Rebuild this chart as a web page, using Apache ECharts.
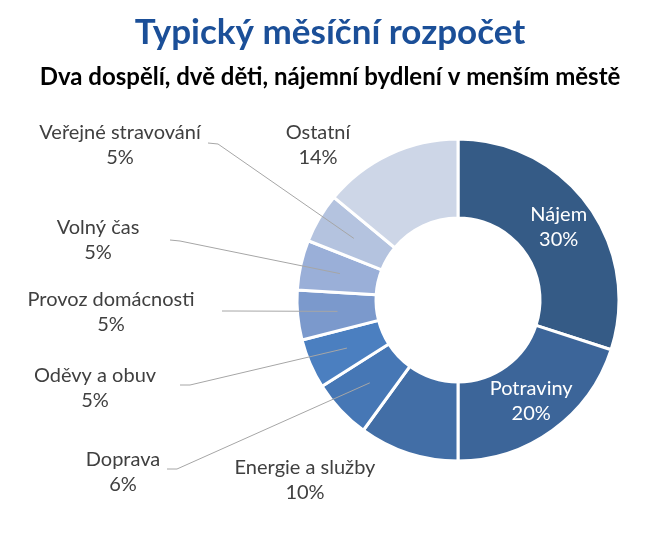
<!DOCTYPE html>
<html><head><meta charset="utf-8">
<script src="https://cdn.jsdelivr.net/npm/echarts@6/dist/echarts.min.js"></script>
<style>html,body{margin:0;padding:0;background:#fff}#c{width:660px;height:544px}</style>
</head><body><div id="c"></div>
<script>
const categories = ['Nájem','Potraviny','Energie a služby','Doprava','Oděvy a obuv','Provoz domácnosti','Volný čas','Veřejné stravování','Ostatní'];
const values = [30,20,10,6,5,5,5,5,14];
const colors = ['#355b86','#3c6599','#426ea6','#4677b5','#4b7fc0','#7b99cc','#9aafd8','#b4c3df','#cdd6e7'];

const CX = 458, CY = 300, R0 = 82, R1 = 161, RM = 121;
const labelPos = {
  2: {x: 305, y: 480},
  3: {x: 123, y: 472, end: [167, 469], kink: [177, 469]},
  4: {x: 95, y: 388, end: [180, 385], kink: [190, 385]},
  5: {x: 111, y: 312, end: [222, 311], kink: [232, 311]},
  6: {x: 98, y: 240, end: [170, 240], kink: [180, 241]},
  7: {x: 120, y: 145, end: [208, 143], kink: [218, 144]},
  8: {x: 318, y: 145}
};
const total = values.reduce((a,b)=>a+b,0);
function midPoint(i){
  let cum = 0; for (let k=0;k<i;k++) cum += values[k];
  const a = (cum + values[i]/2) / total * 2 * Math.PI;
  return [CX + RM*Math.sin(a), CY - RM*Math.cos(a)];
}
const FONT = 'Lato';
const baseData = categories.map((n,i)=>({name: n, value: values[i], itemStyle: {color: colors[i]}}));
const labelData = categories.map((n,i)=>{
  const inside = i < 2;
  return {
    name: n, value: values[i],
    label: inside ? {position: 'inside', color: '#fff'} : {position: 'outside', color: '#404040'},
    labelLine: {show: !inside && i !== 2 && i !== 8}
  };
});
const chart = echarts.init(document.getElementById('c'));
chart.setOption({
  animation: false,
  title: [
    {text: 'Typický měsíční rozpočet', left: 'center', top: 10,
     textStyle: {fontFamily: FONT, fontSize: 35, fontWeight: 'bold', color: '#1b4f98'}},
    {text: 'Dva dospělí, dvě děti, nájemní bydlení v menším městě', left: 'center', top: 60,
     textStyle: {fontFamily: FONT, fontSize: 24, fontWeight: 'bold', color: '#000'}}
  ],
  series: [{
    type: 'pie', z: 2,
    center: [CX, CY], radius: [R0, R1],
    startAngle: 90, clockwise: true,
    itemStyle: {borderColor: '#fff', borderWidth: 3},
    label: {show: false}, labelLine: {show: false},
    data: baseData
  }, {
    type: 'pie', z: 3, silent: true,
    center: [CX, CY], radius: [R0, R1],
    startAngle: 90, clockwise: true,
    avoidLabelOverlap: false,
    itemStyle: {color: 'rgba(0,0,0,0)', borderWidth: 0},
    label: {formatter: '{b}\n{c}%', fontFamily: FONT, fontSize: 20, lineHeight: 25, align: 'center'},
    labelLine: {lineStyle: {color: '#a6a6a6', width: 1}, length: 10, length2: 10},
    labelLayout: function(p){
      const lp = labelPos[p.dataIndex];
      if (!lp) return {};
      const out = {x: lp.x, y: lp.y, align: 'center', verticalAlign: 'middle'};
      if (lp.end) out.labelLinePoints = [midPoint(p.dataIndex), lp.kink, lp.end];
      return out;
    },
    data: labelData
  }]
});
</script></body></html>
